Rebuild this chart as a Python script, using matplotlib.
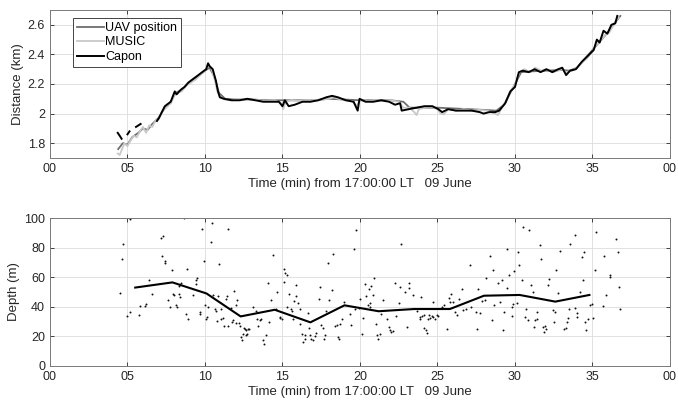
import numpy as np
import matplotlib
matplotlib.use('Agg')
import matplotlib.pyplot as plt

plt.rcParams['font.family'] = ['Liberation Sans', 'DejaVu Sans']
plt.rcParams['font.size'] = 9

nan = np.nan

# top panel: distance (km) vs time (min after 17:00)
uav_t = [4.4, 4.7, 5.0, 5.3, 5.7, 6.0, 6.3, 6.6, 7.0, 7.4, 7.8, 8.1, 8.5, 9.0, 9.5, 10.0,
         10.3, 10.6, 10.9, 11.3, 12, 13, 14, 15, 16, 17, 18, 19, 20, 21, 22, 22.8, 23.2,
         24, 25, 26, 27, 28, 28.8, 29.3, 29.7, 30.1, 30.4, 31, 32, 33, 33.5, 34, 34.5,
         35, 35.5, 36, 36.5, 36.8]
uav_d = [1.76, 1.80, 1.79, 1.84, 1.87, 1.90, 1.89, 1.93, 1.97, 2.04, 2.08, 2.14, 2.16, 2.21,
         2.25, 2.29, 2.31, 2.25, 2.14, 2.10, 2.095, 2.095, 2.09, 2.09, 2.09, 2.09, 2.10,
         2.095, 2.09, 2.09, 2.09, 2.08, 2.04, 2.04, 2.04, 2.035, 2.03, 2.025, 2.02, 2.06,
         2.14, 2.22, 2.28, 2.285, 2.29, 2.295, 2.29, 2.31, 2.37, 2.43, 2.49, 2.55, 2.62, 2.66]

music_t = [4.37, 4.5, 4.65, 4.8, 5.0, 5.2, 5.4, 5.6, 5.8, 6.0, 6.2, 6.4, 6.6, 6.8, 7.0, 7.2,
           7.5, 7.8, 8.0, 8.2, 8.5, 8.8, 9.1, 9.4, 9.7, 10.0, 10.2, 10.4, 10.6, 10.8, 11.0,
           11.3, 11.7, 12, 12.5, 13, 13.5, 14, 14.5, 14.9, 15.05, 15.2, 15.6, 16, 16.5, 17,
           17.5, 18, 18.3, 18.6, 19, 19.5, 19.8, 20.0, 20.5, 21, 21.5, 22, 22.5, 22.8, 23.2,
           23.5, 23.65, 23.8, 24.2, 24.7, 25.0, 25.2, 25.4, 25.7, 26.2, 26.7, 27.2, 27.7,
           28.2, 28.7, 28.9, 29.1, 29.4, 29.7, 30.0, 30.3, 30.6, 31.0, 31.3, 31.7, 32.0,
           32.4, 32.8, 33.0, 33.3, 33.7, 34.0, 34.4, 34.7, 35.0, 35.2, 35.5, 35.8, 36.1,
           36.4, 36.7]
music_d = [1.73, 1.72, 1.76, 1.80, 1.78, 1.82, 1.85, 1.84, 1.88, 1.91, 1.87, 1.92, 1.91,
           1.95, 1.96, 2.01, 2.04, 2.07, 2.12, 2.14, 2.15, 2.19, 2.21, 2.23, 2.26, 2.29,
           2.33, 2.31, 2.24, 2.15, 2.11, 2.095, 2.09, 2.10, 2.09, 2.10, 2.09, 2.085, 2.09,
           2.07, 2.03, 2.08, 2.09, 2.085, 2.09, 2.09, 2.095, 2.10, 2.11, 2.10, 2.09, 2.085,
           2.05, 2.09, 2.085, 2.09, 2.085, 2.09, 2.08, 2.04, 2.04, 2.01, 1.99, 2.03, 2.04,
           2.045, 2.03, 2.00, 1.995, 2.03, 2.02, 2.03, 2.02, 2.025, 2.02, 2.00, 1.99, 2.03,
           2.08, 2.15, 2.20, 2.28, 2.30, 2.28, 2.31, 2.29, 2.30, 2.28, 2.29, 2.30, 2.28,
           2.29, 2.31, 2.35, 2.38, 2.42, 2.46, 2.49, 2.53, 2.55, 2.61, 2.65]

capon_t = [4.37, 4.5, 4.62, nan, 5.0, 5.13, nan, 5.55, 5.7, 5.85, nan, 6.9, 7.03, 7.41,
           7.79, 8.05, 8.17, 8.43, 8.68, 8.93, 9.31, 9.57, 9.82, 10.08, 10.2, 10.3, 10.5,
           10.71, 10.84, 10.96, 11.22, 11.72, 12.23, 12.74, 13.25, 13.76, 14.26, 14.77, 15.0,
           15.15, 15.4, 15.79, 16.29, 16.8, 17.31, 17.82, 18.2, 18.58, 19.09, 19.59, 19.85,
           19.97, 20.36, 20.86, 21.37, 21.88, 22.26, 22.59, 22.69, 23.15, 23.65, 24.16,
           24.67, 25.05, 25.3, 25.69, 26.19, 26.7, 27.21, 27.72, 27.97, 28.35, 28.73, 28.98,
           29.37, 29.7, 30.0, 30.25, 30.5, 30.89, 31.27, 31.65, 32.03, 32.41, 32.79, 33.05,
           33.3, 33.55, 33.93, 34.31, 34.7, 35.08, 35.28, 35.46, 35.71, 35.96, 36.22, 36.47,
           36.6]
capon_d = [1.87, 1.85, 1.83, nan, 1.86, 1.88, nan, 1.91, 1.92, 1.93, nan, 1.95, 1.97, 2.05,
           2.08, 2.15, 2.13, 2.16, 2.18, 2.21, 2.24, 2.26, 2.28, 2.30, 2.34, 2.32, 2.30,
           2.22, 2.15, 2.11, 2.10, 2.09, 2.09, 2.10, 2.09, 2.08, 2.08, 2.08, 2.05, 2.09,
           2.05, 2.06, 2.08, 2.08, 2.09, 2.11, 2.12, 2.11, 2.09, 2.08, 2.02, 2.10, 2.08,
           2.08, 2.09, 2.08, 2.06, 2.07, 2.02, 2.03, 2.04, 2.05, 2.05, 2.03, 2.01, 2.03,
           2.02, 2.02, 2.02, 2.01, 2.00, 2.01, 2.01, 2.02, 2.07, 2.15, 2.18, 2.28, 2.29,
           2.28, 2.30, 2.28, 2.30, 2.28, 2.30, 2.31, 2.26, 2.29, 2.30, 2.35, 2.39, 2.43,
           2.50, 2.48, 2.56, 2.54, 2.60, 2.61, 2.66]

# bottom panel: depth estimates (m)
pts_t = [5.19, 4.72, 4.66, 4.55, 5.15, 5.0, 5.77, 5.84, 6.12, 6.18, 6.37, 6.57, 7.19, 7.32,
         7.25, 7.45, 7.4, 7.85, 7.62, 7.73, 7.98, 7.92, 8.15, 8.22, 8.33, 8.37, 8.48, 8.63,
         8.3, 8.84, 8.76, 8.91, 9.25, 9.44, 9.4, 9.5, 9.66, 9.7, 9.79, 9.94, 10.0, 10.1,
         10.09, 10.2, 10.4, 10.47, 10.54, 10.62, 10.69, 10.77, 10.84, 10.88, 11.01, 11.05,
         11.16, 11.2, 11.33, 11.39, 11.5, 11.5, 11.65, 11.73, 11.8, 11.89, 11.97, 12.02,
         12.08, 12.19, 12.23, 12.34, 12.4, 12.48, 12.57, 12.66, 12.8,
         12.51, 12.62, 12.73, 12.84, 13.12, 13.27, 13.37, 13.41, 13.52, 13.63, 13.73, 13.84,
         13.95, 14.06, 14.12, 14.23, 14.38, 14.59, 14.66, 14.82, 14.87, 14.96, 15.09, 15.19,
         15.3, 15.13, 15.26, 15.41, 15.52, 15.62, 15.69, 15.77, 15.84, 15.9, 16.01, 16.12,
         16.16, 16.27, 16.33, 16.44, 16.48, 16.63, 16.7, 16.76, 16.87, 16.98, 17.09, 17.19,
         17.34, 17.41, 17.49, 17.6, 17.66, 17.73, 17.81, 17.94, 18.03, 18.2, 18.26, 18.37,
         18.52, 18.6, 18.67, 18.73, 18.84, 18.95, 19.34, 19.44, 19.59, 19.76, 19.7, 19.91,
         20.02, 20.13, 20.19, 20.34, 20.41, 20.49, 20.56, 20.62, 20.67, 20.73, 20.84, 20.88,
         21.01, 21.09, 21.16, 21.27, 21.35, 21.48, 21.74, 21.85, 21.95,
         22.02, 22.12, 22.23, 22.32, 22.53, 22.6, 22.66, 22.92, 23.03, 23.13, 23.18, 23.39,
         23.67, 23.84, 23.88, 23.95, 24.0, 24.1, 24.16, 24.25, 24.33, 24.42, 24.48, 24.53,
         24.64, 24.7, 24.74, 24.85, 24.96, 25.06, 25.28, 25.45, 25.6, 25.77, 25.88, 25.82,
         26.03, 26.14, 26.25, 26.39, 26.61, 26.67, 26.82, 27.1, 27.17, 27.47, 27.53, 27.64,
         27.75, 27.9, 28.07, 28.13, 28.39, 28.54, 28.6, 28.67, 28.88, 29.03, 29.14, 29.25,
         29.29, 29.46, 29.5, 29.61, 29.79, 29.83, 29.9, 29.96, 30.11, 30.22, 30.28, 30.43,
         30.5, 30.64, 30.71, 30.86, 30.9, 31.03, 31.18, 31.29, 31.2, 31.42,
         31.39, 31.61, 31.65, 31.78, 31.93, 31.99, 31.86, 32.15, 32.21, 32.42, 32.51, 32.58,
         32.64, 32.79, 32.9, 33.18, 33.28, 33.33, 33.43, 33.5, 33.58, 33.86, 33.9, 33.97,
         34.03, 34.18, 34.33, 34.4, 34.46, 34.51, 34.61, 34.72, 34.83, 34.95, 35.04, 35.15,
         35.21, 35.69, 35.76, 35.84, 36.12, 36.16, 36.5, 36.65, 36.72, 36.8]
pts_d = [99.5, 82.7, 72.5, 49.5, 36.5, 33.6, 34.7, 40.3, 40.3, 41.9, 58.3, 48.9, 86.3, 88.1,
         74.3, 70.7, 69.8, 65.1, 44.4, 39.9, 48.2, 48.9, 41.0, 39.9, 48.9, 46.6, 56.3, 100.0,
         53.8, 65.8, 34.9, 32.0, 47.7, 57.9, 55.6, 59.5, 36.5, 35.4, 92.8, 70.7, 41.0, 33.1,
         31.5, 39.9, 83.8, 96.8, 47.7, 38.7, 37.2, 30.4, 47.3, 69.1, 38.7, 31.5, 32.4, 26.8,
         45.0, 47.3, 92.3, 26.8, 39.2, 29.7, 30.9, 50.5, 29.1, 41.4, 44.4, 29.1, 26.8, 19.6,
         17.3, 21.8, 24.8, 21.2, 25.2,
         25.7, 24.1, 21.8, 24.8, 39.9, 37.4, 32.0, 26.8, 30.9, 32.0, 17.3, 15.1, 20.7, 56.3,
         29.7, 44.4, 74.8, 38.7, 50.0, 33.1, 32.4, 31.5, 65.3, 63.0, 61.3, 56.8, 39.9, 48.9,
         38.7, 36.9, 31.5, 43.7, 47.3, 55.0, 42.8, 38.7, 28.6, 21.8, 16.2, 18.5, 20.7, 36.0,
         25.7, 21.2, 18.5, 17.3, 20.3, 22.5, 45.0, 53.4, 27.5, 25.7, 18.5, 20.7, 36.9, 69.8,
         44.4, 51.1, 75.9, 26.8, 27.5, 19.6, 18.0, 28.6, 32.0, 43.2, 35.4, 27.9, 79.3, 91.7,
         38.7, 39.2, 45.5, 21.8, 32.4, 55.6, 47.3, 41.0, 52.3, 39.9, 42.8, 54.1, 48.2, 59.5,
         28.6, 20.7, 18.5, 21.8, 35.4, 44.4, 31.5, 26.4, 24.1,
         23.0, 23.4, 56.1, 33.6, 42.8, 53.4, 82.7, 50.0, 26.4, 52.7, 56.1, 48.2, 36.9, 33.1,
         32.0, 46.6, 33.8, 34.2, 25.7, 24.1, 22.5, 31.5, 34.7, 32.4, 33.6, 43.2, 33.1, 31.5,
         34.2, 33.8, 39.9, 41.4, 25.2, 45.9, 48.9, 43.2, 43.2, 36.5, 34.2, 45.5, 51.8, 37.6,
         38.7, 68.0, 39.9, 36.5, 25.2, 52.3, 36.0, 43.7, 44.4, 59.5, 74.3, 30.9, 64.6, 41.0,
         56.3, 43.2, 57.9, 24.1, 36.5, 78.8, 52.7, 61.3, 33.8, 39.9, 42.1, 64.0, 42.8, 77.0,
         68.0, 57.9, 93.9, 33.1, 38.3, 30.9, 91.7, 54.5, 50.0, 30.9, 26.4, 31.5,
         36.5, 81.5, 72.5, 26.4, 27.0, 25.2, 23.0, 54.5, 58.6, 37.6, 29.7, 36.5, 64.6, 49.5,
         78.0, 24.8, 25.7, 29.7, 32.4, 38.7, 82.2, 88.3, 39.2, 36.0, 33.1, 50.0, 73.6, 57.9,
         77.0, 29.7, 24.1, 31.5, 41.0, 42.1, 32.4, 64.6, 90.5, 40.5, 74.3, 48.2, 60.1, 61.7,
         85.6, 77.0, 53.4, 38.7]

mean_t = [5.5, 7.9, 10.1, 12.3, 14.5, 16.8, 19.0, 21.2, 23.5, 25.8, 28.0, 30.3, 32.6, 34.8]
mean_d = [53, 56.5, 49, 33.5, 38, 29.5, 41, 37, 38.5, 38.5, 47.5, 48, 43.5, 48]

xticks = [0, 5, 10, 15, 20, 25, 30, 35, 40]
xlabels = ['00', '05', '10', '15', '20', '25', '30', '35', '00']
xlab = 'Time (min) from 17:00:00 LT   09 June'


def style(ax):
  ax.set_xlim(0, 40)
  ax.set_xticks(xticks)
  ax.set_xticklabels(xlabels)
  ax.grid(True, color='#dcdcdc', linewidth=0.6)
  ax.set_axisbelow(True)
  ax.tick_params(direction='in', top=True, right=True, length=3, width=0.6,
                 colors='#262626', labelsize=9)
  for s in ax.spines.values():
    s.set_color('#7a7a7a')
    s.set_linewidth(0.7)
  ax.set_xlabel(xlab, fontsize=9.5, color='#262626', labelpad=2)


fig = plt.figure(figsize=(6.78, 4.05), dpi=100)
ax1 = fig.add_axes([0.0737, 0.6099, 0.9145, 0.3654])
ax2 = fig.add_axes([0.0737, 0.0963, 0.9145, 0.3654])

ax1.plot(uav_t, uav_d, color='#6e6e6e', lw=1.3, label='UAV position')
ax1.plot(music_t, music_d, color='#c8c8c8', lw=1.3, label='MUSIC')
ax1.plot(capon_t, capon_d, color='black', lw=1.4, label='Capon')
ax1.set_ylim(1.7, 2.7)
ax1.set_yticks([1.8, 2, 2.2, 2.4, 2.6])
ax1.set_yticklabels(['1.8', '2', '2.2', '2.4', '2.6'])
ax1.set_ylabel('Distance (km)', fontsize=9.5, color='#262626', labelpad=3)
style(ax1)
leg = ax1.legend(loc='upper left', bbox_to_anchor=(0.037, 0.945), fontsize=9,
                 fancybox=False, framealpha=1, edgecolor='#444444', handlelength=2.2,
                 handletextpad=0.1, borderpad=0.3, labelspacing=0.2, borderaxespad=0)
leg.get_frame().set_linewidth(0.7)

ax2.scatter(pts_t, pts_d, s=2, color='#111111', linewidths=0)
ax2.plot(mean_t, mean_d, color='black', lw=1.5)
ax2.set_ylim(0, 100)
ax2.set_yticks([0, 20, 40, 60, 80, 100])
ax2.set_ylabel('Depth (m)', fontsize=9.5, color='#262626', labelpad=3)
style(ax2)

fig.savefig('out.png', dpi=100)
